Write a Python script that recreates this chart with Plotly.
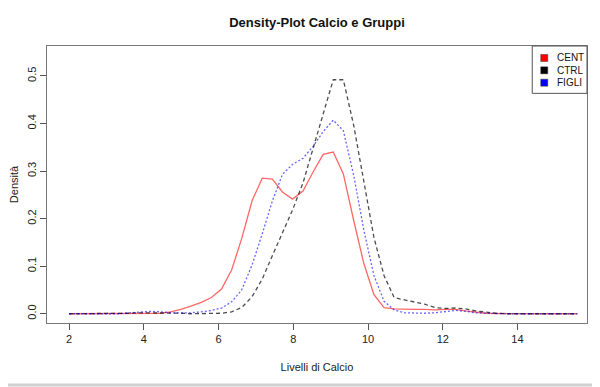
import plotly.graph_objects as go

# grid of evaluation points (Livelli di Calcio)
x_vals = [2.00, 2.27, 2.54, 2.82, 3.09, 3.36, 3.63, 3.90, 4.18, 4.45,
          4.72, 4.99, 5.26, 5.54, 5.81, 6.08, 6.35, 6.62, 6.90, 7.17,
          7.44, 7.71, 7.98, 8.26, 8.53, 8.80, 9.07, 9.34, 9.62, 9.89,
          10.16, 10.43, 10.70, 10.98, 11.25, 11.52, 11.79, 12.06, 12.34, 12.61,
          12.88, 13.15, 13.42, 13.70, 13.97, 14.24, 14.51, 14.78, 15.06, 15.33,
          15.60]

cent = [0, 0, 0, 0, 0, 0, 0, 0, 0.0005, 0.001,
        0.004, 0.009, 0.016, 0.024, 0.034, 0.052, 0.092, 0.158, 0.238, 0.285,
        0.283, 0.256, 0.241, 0.258, 0.298, 0.335, 0.340, 0.294, 0.195, 0.105,
        0.040, 0.013, 0.010, 0.009, 0.009, 0.009, 0.008, 0.009, 0.009, 0.006,
        0.003, 0.001, 0.0005, 0, 0, 0, 0, 0, 0, 0,
        0]

ctrl = [0, 0, 0, 0, 0, 0, 0.001, 0.002, 0.002, 0.002,
        0.001, 0.001, 0, 0, 0, 0.001, 0.004, 0.013, 0.036, 0.073,
        0.122, 0.172, 0.218, 0.275, 0.345, 0.420, 0.492, 0.492, 0.395, 0.275,
        0.160, 0.080, 0.034, 0.029, 0.025, 0.020, 0.013, 0.011, 0.012, 0.010,
        0.006, 0.003, 0.001, 0, 0, 0, 0, 0, 0, 0,
        0]

figli = [0, 0, 0, 0, 0, 0, 0.002, 0.004, 0.005, 0.004,
         0.002, 0.002, 0.002, 0.004, 0.007, 0.012, 0.025, 0.050, 0.103, 0.168,
         0.237, 0.293, 0.314, 0.327, 0.352, 0.383, 0.407, 0.385, 0.290, 0.175,
         0.080, 0.026, 0.008, 0.002, 0.001, 0.001, 0.002, 0.005, 0.007, 0.005,
         0.002, 0.001, 0, 0, 0, 0, 0, 0, 0, 0,
         0]

groups = ["CENT", "CTRL", "FIGLI"]
legend_colors = ["#FF0000", "#000000", "#0000FF"]
line_colors = ["rgba(255,0,0,0.6)", "rgba(0,0,0,0.7)", "rgba(0,0,255,0.6)"]
dashes = ["solid", "4px,3px", "2px,2px"]
series = [cent, ctrl, figli]

# The page body has an 8px default margin, so the figure is drawn 8px in from
# the top-left corner of the 600x387 window.  All page coordinates below are
# converted to figure coordinates by subtracting that offset.
OFF = 8
W, H = 600 - OFF, 387 - OFF
# plot area in page pixels: left 47.3, right 586.7, top 45.5, bottom 323.3
L = 47.3 - OFF
R = W - (586.7 - OFF)
T = 45.5 - OFF
B = H - (323.3 - OFF)
PW, PH = W - L - R, H - T - B


def px_x(px):
    return (px - OFF - L) / PW


def px_y(py):
    return (H - B - (py - OFF)) / PH


fig = go.Figure()
for name, ys, col, dsh in zip(groups, series, line_colors, dashes):
    fig.add_trace(go.Scatter(x=x_vals, y=ys, mode="lines", name=name,
                             line=dict(color=col, width=1.3, dash=dsh),
                             showlegend=False, hoverinfo="skip"))

axis_common = dict(showgrid=False, zeroline=False, showline=True, mirror=True,
                   linecolor="#777", linewidth=1, ticks="outside", ticklen=6,
                   tickcolor="#555", automargin=False,
                   tickfont=dict(family="Liberation Sans, Arial", size=11, color="#222"))

# legend drawn as box + coloured squares + text
shapes = [dict(type="rect", xref="paper", yref="paper",
               x0=px_x(532), x1=px_x(586.7), y0=px_y(93), y1=px_y(45.5),
               fillcolor="white", line=dict(color="#555", width=1), layer="above")]
annotations = []
for i, (name, col) in enumerate(zip(groups, legend_colors)):
    cy = 57.5 + 12.4 * i
    shapes.append(dict(type="rect", xref="paper", yref="paper",
                       x0=px_x(540.5), x1=px_x(547.5), y0=px_y(cy + 3.5), y1=px_y(cy - 3.5),
                       fillcolor=col, line=dict(color="#333", width=0.5), layer="above"))
    annotations.append(dict(text=name, xref="paper", yref="paper", x=px_x(554.5), y=px_y(cy),
                            xanchor="left", yanchor="middle", showarrow=False,
                            font=dict(size=10, color="#111")))

# thin grey band along the bottom edge of the window
shapes.append(dict(type="rect", xref="paper", yref="paper", x0=px_x(0), x1=px_x(600),
                   y0=px_y(387), y1=px_y(384), fillcolor="#d0d0d0", line=dict(width=0)))

fig.update_layout(
    width=W, height=H,
    margin=dict(l=L, r=R, t=T, b=B, pad=0),
    paper_bgcolor="white", plot_bgcolor="white",
    font=dict(family="Liberation Sans, Arial", size=11, color="#222"),
    title=dict(text="<b>Density-Plot Calcio e Gruppi</b>", x=0.5, xref="paper", xanchor="center",
               y=1 - (22.5 - OFF) / H, yanchor="middle", font=dict(size=13, color="#111")),
    xaxis=dict(range=[1.41, 15.86], tickvals=[2, 4, 6, 8, 10, 12, 14],
               title=dict(text="Livelli di Calcio", standoff=19,
                          font=dict(size=11, color="#222")),
               **axis_common),
    yaxis=dict(range=[-0.0195, 0.563], tickvals=[0, 0.1, 0.2, 0.3, 0.4, 0.5],
               ticktext=["0.0", "0.1", "0.2", "0.3", "0.4", "0.5"], tickangle=-90,
               title=dict(text="Densità", standoff=17,
                          font=dict(size=11, color="#222")),
               **axis_common),
    showlegend=False,
    shapes=shapes,
    annotations=annotations,
)

fig.write_html("out.html")
